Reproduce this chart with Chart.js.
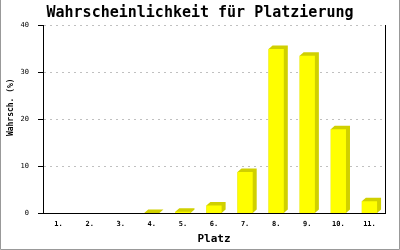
<!DOCTYPE html>
<html>
<head>
<meta charset="utf-8">
<script src="https://cdn.jsdelivr.net/npm/chart.js@4"></script>
<style>
  body { margin: 0; background: #fff; }
  #wrap { width: 400px; height: 250px; }
</style>
</head>
<body>
<div id="wrap"><canvas id="myChart"></canvas></div>
<script>
// places along the x-axis
var places = ["1.", "2.", "3.", "4.", "5.", "6.", "7.", "8.", "9.", "10.", "11."];
// probability per place, in percent
var probability = [0, 0, 0, 0.1, 0.35, 1.7, 8.8, 34.9, 33.5, 17.9, 2.6];

var mono = "'DejaVu Sans Mono', 'Liberation Mono', monospace";

// fake 3d side for every bar, taken from the bar elements themselves
var shadow = {
  id: "shadow",
  beforeDatasetsDraw: function(chart) {
    var c = chart.ctx;
    var meta = chart.getDatasetMeta(0);
    c.save();
    c.fillStyle = "#d0d000";
    meta.data.forEach(function(bar, i) {
      if (!probability[i]) return;
      var p = bar.getProps(["x", "y", "base", "width"], true);
      var l = p.x - p.width / 2, r = p.x + p.width / 2;
      c.beginPath();
      c.moveTo(l, p.y);
      c.lineTo(l + 4, p.y - 3.5);
      c.lineTo(r + 4, p.y - 3.5);
      c.lineTo(r + 4, p.base - 3.5);
      c.lineTo(r, p.base);
      c.lineTo(l, p.base);
      c.closePath();
      c.fill();
    });
    c.restore();
  },
  beforeDraw: function(chart) {
    var c = chart.ctx;
    c.save();
    c.fillStyle = "#fff";
    c.fillRect(0, 0, chart.width, chart.height);
    c.restore();
  },
  afterDraw: function(chart) {
    var c = chart.ctx;
    c.save();
    c.strokeStyle = "#999";
    c.lineWidth = 1;
    c.beginPath();
    c.moveTo(0.5, 0);
    c.lineTo(0.5, 249.5);
    c.lineTo(399.5, 249.5);
    c.lineTo(399.5, 0);
    c.stroke();
    c.restore();
  }
};

var ctx = document.getElementById("myChart");
var myChart = new Chart(ctx, {
  type: "bar",
  data: {
    labels: places,
    datasets: [
      {
        data: probability,
        backgroundColor: "#ffff00",
        borderWidth: 0,
        barPercentage: 0.49,
        categoryPercentage: 1
      }
    ]
  },
  options: {
    responsive: true,
    maintainAspectRatio: false,
    animation: false,
    layout: { padding: 0 },
    plugins: {
      legend: { display: false },
      tooltip: { enabled: false },
      title: {
        display: true,
        text: "Wahrscheinlichkeit für Platzierung",
        color: "#000",
        font: { family: mono, size: 15, weight: "bold" },
        padding: { top: 4, bottom: 3 }
      }
    },
    scales: {
      x: {
        afterFit: function(s) { s.height = 36.5; },
        grid: { drawOnChartArea: false, drawTicks: false },
        border: { color: "#000", width: 1 },
        ticks: {
          color: "#000",
          padding: 6,
          maxRotation: 0,
          font: { family: mono, size: 7, weight: "bold" }
        },
        title: {
          display: true,
          text: "Platz",
          color: "#000",
          font: { family: mono, size: 11, weight: "bold" },
          padding: { top: 0, bottom: 4 }
        }
      },
      y: {
        min: 0,
        max: 40,
        afterFit: function(s) { s.width = 43; },
        grid: {
          color: function(c) { return c.tick && c.tick.value === 0 ? "rgba(0,0,0,0)" : "#c0c0c0"; },
          tickColor: "#000",
          tickLength: 5,
          tickBorderDash: []
        },
        border: { color: "#000", width: 1, dash: [2, 4] },
        ticks: {
          stepSize: 10,
          color: "#000",
          padding: 9,
          font: { family: mono, size: 7 }
        },
        title: {
          display: true,
          text: "     Wahrsch. (%)",
          color: "#000",
          font: { family: mono, size: 8, weight: "bold" },
          padding: { top: 6, bottom: 0 }
        }
      },
      y2: {
        position: "right",
        min: 0,
        max: 40,
        afterFit: function(s) { s.width = 15; },
        grid: { drawOnChartArea: false, drawTicks: false },
        border: { color: "#000", width: 1 },
        ticks: { display: false }
      }
    }
  },
  plugins: [shadow]
});
</script>
</body>
</html>
